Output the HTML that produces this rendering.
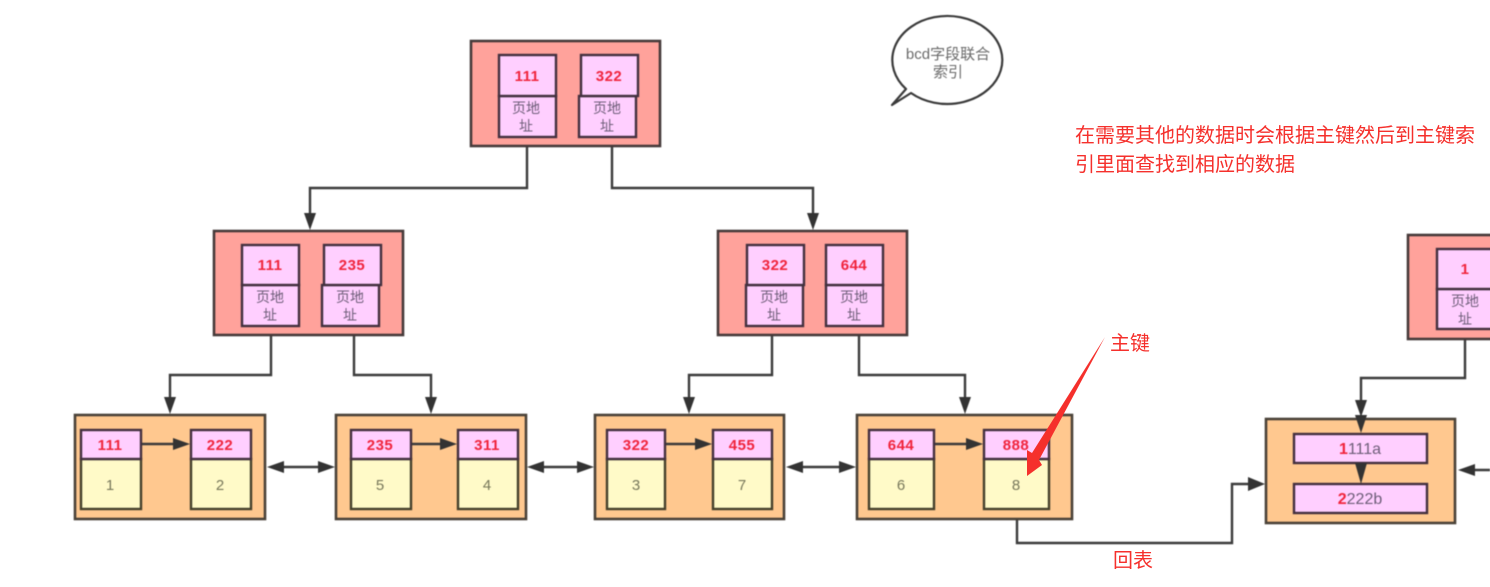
<!DOCTYPE html>
<html><head><meta charset="utf-8">
<style>
html,body{margin:0;padding:0;background:#fff;width:1490px;height:587px;overflow:hidden}
svg{display:block}
text{font-family:"Liberation Sans","Noto Sans CJK SC",sans-serif}
.d{filter:blur(.5px)}
.l{fill:none;stroke:#3b3b3b;stroke-width:2.4}
.h{fill:#333}
.r{fill:#ffa29b;stroke:#463a3a;stroke-width:2.6}
.o{fill:#ffc88f;stroke:#4a4238;stroke-width:2.6}
.p{fill:#ffcfff;stroke:#43303f;stroke-width:2.4}
.y{fill:#fffac8;stroke:#45402c;stroke-width:2.4}
.k{fill:#f0243c;font-weight:bold;font-size:15px;letter-spacing:.5px;text-anchor:middle}
.a{fill:#6d5d78;font-size:14px;text-anchor:middle}
.n{fill:#77775a;font-size:15px;text-anchor:middle}
.t{fill:#f5302c;font-size:20px}
.b{font-size:16px;text-anchor:middle;fill:#6d5d78}
</style></head><body>
<svg width="1490" height="587" viewBox="0 0 1490 587" xmlns="http://www.w3.org/2000/svg">
<g class="d">
<!-- connectors -->
<path class="l" d="M527 146V188H310V216M612 146V188H813V216"/>
<path class="h" d="M304 213H316L310 230ZM807 213H819L813 230Z"/>
<path class="l" d="M271 335V375H170V400M354 335V375H431V400M772 335V375H689V400M859 335V375H965V400"/>
<path class="h" d="M164 397H176L170 414ZM425 397H437L431 414ZM683 397H695L689 414ZM959 397H971L965 414Z"/>
<path class="l" d="M1465 338V378H1361V404"/>
<path class="h" d="M1355 400H1367L1361 417Z"/>
<path class="l" d="M1017 510V543H1232V484H1250"/>
<path class="h" d="M1248 477L1265 484L1248 491Z"/>

<!-- root -->
<rect class="r" x="471" y="41" width="189" height="105"/>
<rect class="p" x="499" y="96" width="57" height="41"/>
<rect class="p" x="499" y="55" width="57" height="41"/>
<rect class="p" x="579" y="96" width="57" height="41"/>
<rect class="p" x="581" y="55" width="57" height="41"/>
<text class="k" x="527" y="81">111</text><text class="k" x="609" y="81">322</text>
<text class="a" x="526" y="113">页地</text><text class="a" x="526" y="131">址</text>
<text class="a" x="607" y="113">页地</text><text class="a" x="607" y="131">址</text>

<!-- level 2 left -->
<rect class="r" x="214" y="231" width="189" height="104"/>
<rect class="p" x="242" y="285" width="57" height="41"/>
<rect class="p" x="242" y="245" width="57" height="40"/>
<rect class="p" x="322" y="285" width="57" height="41"/>
<rect class="p" x="324" y="245" width="57" height="40"/>
<text class="k" x="270" y="270">111</text><text class="k" x="352" y="270">235</text>
<text class="a" x="270" y="302">页地</text><text class="a" x="270" y="320">址</text>
<text class="a" x="350" y="302">页地</text><text class="a" x="350" y="320">址</text>

<!-- level 2 right -->
<rect class="r" x="718" y="231" width="189" height="104"/>
<rect class="p" x="746" y="285" width="57" height="41"/>
<rect class="p" x="747" y="245" width="57" height="40"/>
<rect class="p" x="826" y="285" width="57" height="41"/>
<rect class="p" x="826" y="245" width="57" height="40"/>
<text class="k" x="775" y="270">322</text><text class="k" x="854" y="270">644</text>
<text class="a" x="774" y="302">页地</text><text class="a" x="774" y="320">址</text>
<text class="a" x="854" y="302">页地</text><text class="a" x="854" y="320">址</text>

<!-- level 2 far right -->
<rect class="r" x="1408" y="235" width="100" height="104"/>
<rect class="p" x="1437" y="289" width="80" height="40"/>
<rect class="p" x="1437" y="249" width="80" height="40"/>
<text class="k" x="1465" y="274">1</text>
<text class="a" x="1465" y="306">页地</text><text class="a" x="1465" y="324">址</text>

<!-- leaves -->
<rect class="o" x="75" y="415" width="190" height="104"/>
<rect class="o" x="336" y="415" width="190" height="104"/>
<rect class="o" x="595" y="415" width="189" height="104"/>
<rect class="o" x="857" y="415" width="215" height="104"/>
<rect class="o" x="1266" y="419" width="189" height="104"/>

<rect class="y" x="81" y="459" width="60" height="50"/><rect class="p" x="81" y="430" width="60" height="29"/>
<rect class="y" x="191" y="459" width="60" height="50"/><rect class="p" x="191" y="430" width="60" height="29"/>
<rect class="y" x="351" y="459" width="60" height="50"/><rect class="p" x="351" y="430" width="60" height="29"/>
<rect class="y" x="458" y="459" width="60" height="50"/><rect class="p" x="458" y="430" width="60" height="29"/>
<rect class="y" x="607" y="459" width="58" height="50"/><rect class="p" x="607" y="430" width="58" height="29"/>
<rect class="y" x="713" y="459" width="59" height="50"/><rect class="p" x="713" y="430" width="59" height="29"/>
<rect class="y" x="869" y="459" width="65" height="50"/><rect class="p" x="869" y="430" width="65" height="29"/>
<rect class="y" x="984" y="459" width="65" height="50"/><rect class="p" x="984" y="430" width="65" height="29"/>

<text class="k" x="110" y="450">111</text><text class="k" x="220" y="450">222</text>
<text class="k" x="380" y="450">235</text><text class="k" x="487" y="450">311</text>
<text class="k" x="636" y="450">322</text><text class="k" x="742" y="450">455</text>
<text class="k" x="901" y="450">644</text><text class="k" x="1016" y="450">888</text>
<text class="n" x="110" y="490">1</text><text class="n" x="220" y="490">2</text>
<text class="n" x="380" y="490">5</text><text class="n" x="487" y="490">4</text>
<text class="n" x="636" y="490">3</text><text class="n" x="742" y="490">7</text>
<text class="n" x="901" y="490">6</text><text class="n" x="1016" y="490">8</text>

<!-- inner arrows -->
<path class="l" d="M142 444H178M412 444H445M666 444H700M935 444H970"/>
<path class="h" d="M173 438L190 444L173 450ZM440 438L457 444L440 450ZM695 438L712 444L695 450ZM966 438L983 444L966 450Z"/>

<!-- double arrows -->
<path class="l" d="M275 467H325M535 467H585M795 467H845M1472 470H1490"/>
<path class="h" d="M267 467L284 461V473ZM335 467L318 461V473ZM527 467L544 461V473ZM594 467L577 461V473ZM786 467L803 461V473ZM856 467L839 461V473ZM1458 470L1475 464V476Z"/>

<!-- right box bars -->
<rect class="p" x="1294" y="434" width="133" height="29"/>
<rect class="p" x="1294" y="484" width="133" height="29"/>
<path class="h" d="M1355 415H1367L1361 433ZM1355 463H1367L1361 484Z"/>
<text class="b" x="1360" y="454"><tspan fill="#f0243c" font-weight="bold">1</tspan>111a</text>
<text class="b" x="1360" y="504"><tspan fill="#f0243c" font-weight="bold">2</tspan>222b</text>

<!-- bubble -->
<path d="M906 89A55 44 0 1 1 911 93L892 105Z" fill="#fff" stroke="#3b3b3b" stroke-width="2.2" stroke-linejoin="round"/>
<text x="948" y="59" style="font-size:15px;text-anchor:middle;fill:#6a6a6a">bcd字段联合</text>
<text x="948" y="77" style="font-size:15px;text-anchor:middle;fill:#6a6a6a">索引</text>
</g>

<!-- annotations -->
<path d="M1105 337L1032 453L1027 450L1027 476L1042 465L1039 460Z" fill="#f5302c"/>
<text class="t" x="1110" y="350">主键</text>
<text class="t" x="1113" y="567">回表</text>
<text class="t" x="1075" y="142">在需要其他的数据时会根据主键然后到主键索</text>
<text class="t" x="1075" y="171">引里面查找到相应的数据</text>
</svg>
</body></html>
